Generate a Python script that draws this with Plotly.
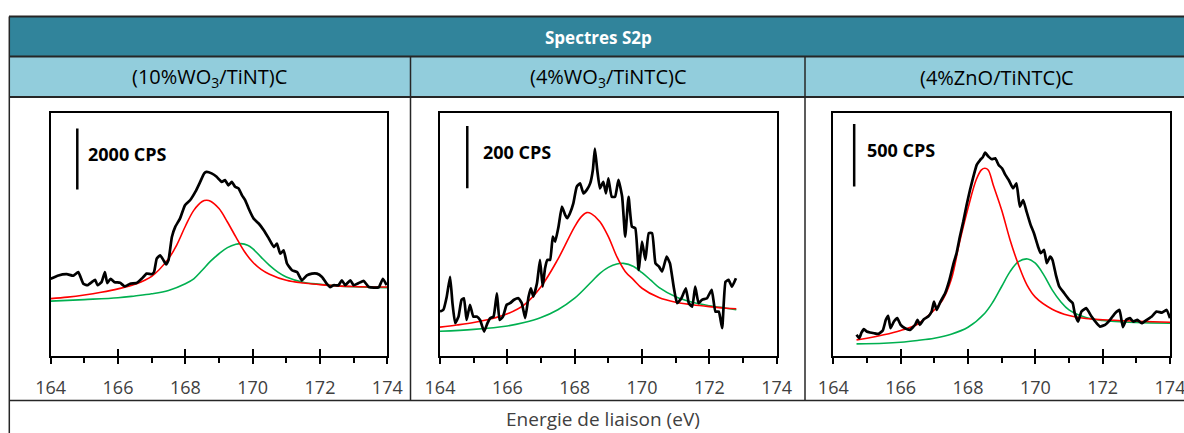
import plotly.graph_objects as go

# ---------------- data (binding energy in eV, intensity in CPS above axis) ----------------
p1_exp_x = [164.0, 164.23, 164.48, 164.67, 164.82, 164.97, 165.09, 165.22, 165.32, 165.39,
            165.51, 165.61, 165.68, 165.78, 165.9, 166.06, 166.2, 166.36, 166.55, 166.7,
            166.85, 167.0, 167.07, 167.15, 167.25, 167.35, 167.43, 167.5, 167.6, 167.7,
            167.84, 167.99, 168.14, 168.3, 168.44, 168.56, 168.63, 168.78, 168.93, 169.08,
            169.18, 169.28, 169.38, 169.48, 169.58, 169.68, 169.78, 169.88, 170.03, 170.18,
            170.33, 170.48, 170.63, 170.72, 170.82, 170.92, 171.02, 171.17, 171.32, 171.46,
            171.61, 171.76, 171.91, 172.06, 172.2, 172.3, 172.4, 172.55, 172.65, 172.75,
            172.9, 173.0, 173.15, 173.3, 173.45, 173.6, 173.75, 173.87, 173.98]
p1_exp_y = [2510, 2620, 2660, 2610, 2730, 2350, 2300, 2400, 2480, 2300,
            2400, 2730, 2370, 2510, 2400, 2380, 2260, 2350, 2370, 2510,
            2680, 2660, 2730, 3170, 3280, 3120, 2980, 3120, 3880, 4210,
            4480, 4920, 5080, 5360, 5680, 5960, 6010, 5960, 5850, 5680,
            5740, 5570, 5680, 5520, 5470, 5250, 5080, 4810, 4480, 4320,
            4100, 3830, 3550, 3660, 3330, 3440, 3010, 2790, 2730, 2460,
            2620, 2680, 2680, 2570, 2350, 2240, 2300, 2300, 2460, 2300,
            2460, 2300, 2370, 2440, 2240, 2220, 2240, 2510, 2300]
p1_red_x = [164.0, 164.5, 165.0, 165.5, 166.0, 166.5, 167.0, 167.5, 167.75, 168.0, 168.25,
            168.5, 168.63, 168.75, 169.0, 169.25, 169.5, 169.75, 170.0, 170.25, 170.5,
            171.0, 171.5, 172.0, 172.5, 173.0, 174.0]
p1_red_y = [1860, 1910, 1980, 2070, 2180, 2330, 2590, 3170, 3630, 4230, 4750,
            5040, 5080, 5050, 4810, 4370, 3880, 3410, 3060, 2820, 2660,
            2460, 2370, 2320, 2280, 2260, 2240]
p1_grn_x = [164.0, 165.0, 166.0, 166.5, 167.0, 167.5, 168.0, 168.25, 168.5, 168.75, 169.0,
            169.25, 169.5, 169.65, 169.85, 170.0, 170.25, 170.5, 170.75, 171.0, 171.5,
            172.0, 172.5, 173.0, 174.0]
p1_grn_y = [1780, 1830, 1890, 1950, 2020, 2130, 2350, 2510, 2790, 3090, 3330,
            3530, 3640, 3660, 3610, 3500, 3220, 2950, 2730, 2570, 2400,
            2330, 2280, 2250, 2220]

p2_exp_x = [164.0, 164.1, 164.2, 164.3, 164.37, 164.45, 164.55, 164.64, 164.71, 164.79,
            164.89, 164.99, 165.09, 165.19, 165.31, 165.41, 165.49, 165.59, 165.69, 165.77,
            165.87, 165.98, 166.08, 166.2, 166.33, 166.43, 166.53, 166.63, 166.7, 166.77,
            166.88, 166.97, 167.05, 167.12, 167.19, 167.27, 167.35, 167.42, 167.52, 167.62,
            167.72, 167.78, 167.86, 167.96, 168.06, 168.16, 168.26, 168.36, 168.46, 168.54,
            168.6, 168.67, 168.75, 168.85, 168.93, 169.0, 169.1, 169.2, 169.3, 169.41,
            169.5, 169.6, 169.7, 169.8, 169.9, 170.0, 170.1, 170.2, 170.3, 170.4,
            170.5, 170.6, 170.73, 170.83, 170.94, 171.04, 171.17, 171.3, 171.39, 171.49,
            171.58, 171.68, 171.78, 171.93, 172.07, 172.18, 172.28, 172.38, 172.48, 172.57,
            172.67, 172.79]
p2_exp_y = [141, 147, 189, 253, 168, 104, 125, 179, 184, 114,
            163, 125, 125, 114, 77, 104, 120, 125, 200, 114,
            125, 163, 168, 179, 184, 168, 120, 189, 216, 189,
            232, 307, 221, 280, 307, 307, 382, 366, 414, 478,
            451, 441, 457, 489, 542, 553, 521, 532, 553, 596,
            665, 596, 537, 558, 521, 569, 510, 510, 564, 510,
            382, 510, 414, 409, 275, 366, 307, 393, 393, 296,
            286, 270, 318, 296, 221, 168, 184, 216, 168, 157,
            221, 168, 179, 184, 211, 141, 141, 88, 237, 243,
            221, 248]
p2_red_x = [164.0, 164.5, 165.0, 165.5, 166.0, 166.5, 167.0, 167.5, 168.0, 168.2, 168.36,
            168.5, 168.75, 169.0, 169.25, 169.5, 169.75, 170.0, 170.5, 171.0, 171.5,
            172.0, 172.5, 172.8]
p2_red_y = [91, 98, 106, 117, 134, 163, 221, 309, 414, 446, 459,
            455, 430, 382, 318, 270, 243, 216, 186, 171, 163,
            157, 152, 150]
p2_grn_x = [164.0, 165.0, 166.0, 166.5, 167.0, 167.5, 168.0, 168.5, 168.75, 169.0, 169.25,
            169.45, 169.75, 170.0, 170.25, 170.5, 171.0, 171.5, 172.0, 172.5, 172.8]
p2_grn_y = [78, 84, 95, 106, 122, 147, 184, 237, 264, 283, 294,
            296, 286, 266, 243, 219, 189, 171, 160, 152, 147]

p3_exp_x = [164.69, 164.77, 164.84, 164.91, 164.99, 165.09, 165.21, 165.34, 165.47, 165.56,
            165.63, 165.7, 165.8, 165.9, 166.0, 166.13, 166.28, 166.43, 166.5, 166.57,
            166.69, 166.82, 166.92, 166.99, 167.07, 167.17, 167.32, 167.45, 167.56, 167.66,
            167.76, 167.86, 167.96, 168.06, 168.16, 168.26, 168.36, 168.44, 168.51, 168.61,
            168.71, 168.81, 168.91, 169.01, 169.11, 169.21, 169.34, 169.44, 169.54, 169.64,
            169.74, 169.86, 169.96, 170.08, 170.16, 170.26, 170.34, 170.44, 170.51, 170.61,
            170.71, 170.86, 171.01, 171.11, 171.17, 171.27, 171.37, 171.51, 171.67, 171.82,
            171.92, 172.07, 172.22, 172.37, 172.5, 172.6, 172.7, 172.81, 172.91, 173.03,
            173.16, 173.31, 173.46, 173.6, 173.76, 173.9, 174.0]
p3_exp_y = [165, 138, 184, 210, 192, 184, 178, 173, 200, 285,
            317, 218, 271, 298, 245, 218, 205, 245, 285, 245,
            290, 311, 351, 431, 364, 423, 497, 604, 724, 817,
            950, 1069, 1202, 1322, 1428, 1522, 1561, 1583, 1620, 1588,
            1567, 1575, 1522, 1495, 1442, 1402, 1335, 1375, 1189, 1242,
            1149, 1043, 976, 870, 817, 843, 737, 790, 763, 644,
            551, 497, 444, 418, 338, 271, 351, 378, 311, 258,
            231, 245, 285, 338, 364, 226, 285, 298, 271, 285,
            258, 285, 311, 351, 343, 364, 298]
p3_red_x = [164.69, 165.0, 165.5, 166.0, 166.5, 167.0, 167.25, 167.5, 167.75, 168.0, 168.25,
            168.4, 168.5, 168.6, 168.75, 169.0, 169.25, 169.5, 169.75, 170.0, 170.5,
            171.0, 171.5, 172.0, 173.0, 174.0]
p3_red_y = [125, 138, 165, 200, 250, 364, 444, 604, 904, 1176, 1407,
            1482, 1495, 1482, 1362, 1162, 923, 724, 564, 466, 370,
            319, 295, 285, 274, 266]
p3_grn_x = [164.69, 165.5, 166.0, 166.5, 167.0, 167.5, 168.0, 168.5, 168.75, 169.0, 169.25,
            169.5, 169.77, 170.0, 170.25, 170.5, 170.75, 171.0, 171.5, 172.0, 173.0, 174.0]
p3_grn_y = [93, 98, 106, 120, 138, 170, 226, 338, 431, 551, 670,
            750, 771, 737, 644, 524, 431, 364, 303, 279, 263, 258]

title = "Spectres S2p"
columns = ["(10%WO<sub>3</sub>/TiNT)C", "(4%WO<sub>3</sub>/TiNTC)C", "(4%ZnO/TiNTC)C"]
x_title = "Energie de liaison (eV)"
x_ticks = [164, 166, 168, 170, 172, 174]
scale_cps = [2000, 200, 500]
y_ranges = [7946, 780, 1939]
scale_bar_x = [164.79, 164.81, 164.62]
scale_bar_y0 = [5432, 537, 1349]
scale_lbl_x = [165.05, 165.21, 164.94]

# ---------------- layout helpers ----------------
W, H = 1184, 433
def px(x): return x / W
def py(y): return 1 - y / H

x_dom = [(50.7, 387.3), (440.0, 776.7), (833.3, 1170.0)]
y_dom = (py(355.5), py(112.7))

FONT = "Open Sans"
fig = go.Figure()

panels = [
    (p1_exp_x, p1_exp_y, p1_red_x, p1_red_y, p1_grn_x, p1_grn_y),
    (p2_exp_x, p2_exp_y, p2_red_x, p2_red_y, p2_grn_x, p2_grn_y),
    (p3_exp_x, p3_exp_y, p3_red_x, p3_red_y, p3_grn_x, p3_grn_y),
]

shapes = []
annotations = []
for i, (ex, ey, rx, ry, gx, gy) in enumerate(panels):
    n = i + 1
    xa = "x" if n == 1 else f"x{n}"
    ya = "y" if n == 1 else f"y{n}"
    xo = f"x{n + 3}"
    fig.add_trace(go.Scatter(x=gx, y=gy, xaxis=xa, yaxis=ya, mode="lines",
                             line=dict(color="#00B050", width=1.6, shape="spline"),
                             hoverinfo="skip", showlegend=False))
    fig.add_trace(go.Scatter(x=rx, y=ry, xaxis=xa, yaxis=ya, mode="lines",
                             line=dict(color="#FF0000", width=1.6, shape="spline"),
                             hoverinfo="skip", showlegend=False))
    fig.add_trace(go.Scatter(x=ex, y=ey, xaxis=xa, yaxis=ya, mode="lines",
                             line=dict(color="black", width=2.7, shape="spline", smoothing=0.4),
                             hoverinfo="skip", showlegend=False))
    # invisible trace for overlay axis (inside major ticks)
    fig.add_trace(go.Scatter(x=[x_ticks[0]], y=[None], xaxis=xo, yaxis=ya, mode="lines",
                             hoverinfo="skip", showlegend=False))

    dom = [px(x_dom[i][0]), px(x_dom[i][1])]
    fig.layout[f"xaxis{'' if n == 1 else n}"] = dict(
        domain=dom, anchor=ya, range=[164, 174], tickvals=x_ticks, automargin=False,
        ticks="outside", ticklen=7, tickwidth=1.5, tickcolor="black",
        minor=dict(ticks="outside", ticklen=6, dtick=1, tick0=164, tickwidth=1.5, tickcolor="black"),
        showline=True, linewidth=1.5, linecolor="black", mirror=True,
        showgrid=False, zeroline=False, ticklabelstandoff=8, ticklabeloverflow="allow",
        tickfont=dict(family=FONT, size=18, color="#404040"), fixedrange=True)
    fig.layout[f"xaxis{n + 3}"] = dict(
        domain=dom, anchor=ya, overlaying=xa, range=[164, 174], tickvals=x_ticks, automargin=False,
        ticks="inside", ticklen=7, tickwidth=1.5, tickcolor="black",
        showticklabels=False, showline=False, showgrid=False, zeroline=False, fixedrange=True)
    fig.layout[f"yaxis{'' if n == 1 else n}"] = dict(
        domain=list(y_dom), anchor=xa, range=[0, y_ranges[i]], automargin=False,
        showline=True, linewidth=1.5, linecolor="black", mirror=True,
        ticks="", showticklabels=False, showgrid=False, zeroline=False, fixedrange=True)

    # scale bar
    shapes.append(dict(type="line", xref=xa, yref=ya,
                       x0=scale_bar_x[i], x1=scale_bar_x[i],
                       y0=scale_bar_y0[i], y1=scale_bar_y0[i] + scale_cps[i],
                       line=dict(color="black", width=2.5)))
    annotations.append(dict(xref=xa, yref=ya, x=scale_lbl_x[i],
                            y=scale_bar_y0[i] + scale_cps[i] * 0.58,
                            text=f"<b>{scale_cps[i]} CPS</b>", showarrow=False,
                            xanchor="left", yanchor="middle",
                            font=dict(family=FONT, size=18, color="black")))

# ---------------- table frame ----------------
TR = 1200  # table right edge (beyond visible area)
BORDER = "#262626"
shapes += [
    dict(type="rect", xref="paper", yref="paper", x0=px(9), x1=px(TR), y0=py(56.5), y1=py(16.5),
         fillcolor="#31849B", line=dict(width=0), layer="below"),
    dict(type="rect", xref="paper", yref="paper", x0=px(9), x1=px(TR), y0=py(97), y1=py(56.5),
         fillcolor="#92CDDC", line=dict(width=0), layer="below"),
]
for yy in (16.5, 56.5, 97):
    shapes.append(dict(type="line", xref="paper", yref="paper", x0=px(9), x1=px(TR),
                       y0=py(yy), y1=py(yy), line=dict(color=BORDER, width=2)))
shapes.append(dict(type="line", xref="paper", yref="paper", x0=px(9), x1=px(TR),
                   y0=py(400.5), y1=py(400.5), line=dict(color=BORDER, width=1.5)))
shapes.append(dict(type="line", xref="paper", yref="paper", x0=px(9.3), x1=px(9.3),
                   y0=py(16.5), y1=py(440), line=dict(color=BORDER, width=1.5)))
for xx in (410.5, 805.0):
    shapes.append(dict(type="line", xref="paper", yref="paper", x0=px(xx), x1=px(xx),
                       y0=py(56.5), y1=py(400.5), line=dict(color=BORDER, width=1.5)))

annotations.append(dict(xref="paper", yref="paper", x=px(598.5), y=py(37), text=f"<b>{title}</b>",
                        showarrow=False, xanchor="center", yanchor="middle",
                        font=dict(family=FONT, size=17, color="white")))
col_centers = [209.8, 607.8, 997.0]
for c, t in zip(col_centers, columns):
    annotations.append(dict(xref="paper", yref="paper", x=px(c), y=py(77), text=t,
                            showarrow=False, xanchor="center", yanchor="middle",
                            font=dict(family=FONT, size=20, color="black")))
annotations.append(dict(xref="paper", yref="paper", x=px(603), y=py(419), text=x_title,
                        showarrow=False, xanchor="center", yanchor="middle",
                        font=dict(family=FONT, size=19, color="#404040")))

fig.update_layout(width=W, height=H, margin=dict(l=0, r=0, t=0, b=0, autoexpand=False),
                  paper_bgcolor="white", plot_bgcolor="rgba(0,0,0,0)",
                  shapes=shapes, annotations=annotations, showlegend=False)

fig.write_html("out.html", config={"displayModeBar": False},
               post_script="document.body.style.margin='0';")
